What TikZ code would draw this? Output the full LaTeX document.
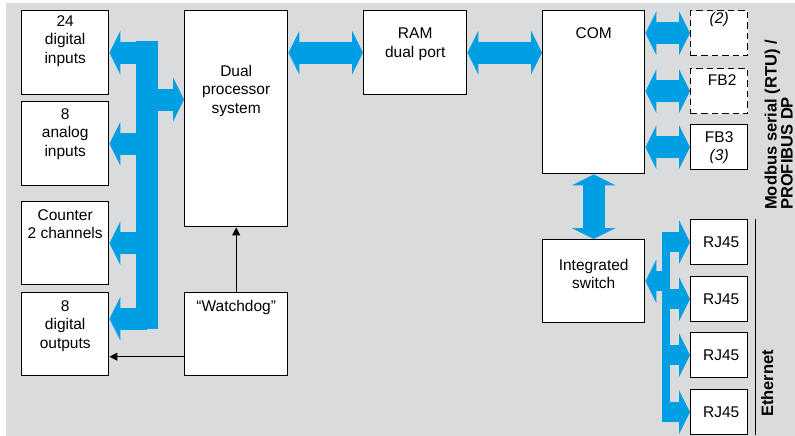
\documentclass[tikz,border=0pt]{standalone}
\usepackage{fontspec}
\setmainfont{Liberation Sans}
\usetikzlibrary{arrows.meta,positioning}

\definecolor{busblue}{RGB}{0,159,227}
\definecolor{panel}{RGB}{218,219,221}

\tikzset{
  blk/.style={draw, line width=1.4pt, fill=white, inner sep=0pt, anchor=north west},
  dblk/.style={blk, dash pattern=on 6.5pt off 4pt},
  lbl/.style={align=center, inner sep=0pt, font=\fontsize{15.5}{18.5}\selectfont},
  side/.style={rotate=90, align=left, inner sep=0pt, font=\fontsize{16.5}{14}\selectfont\bfseries},
  bus/.style={draw=busblue, line width=22pt, >={Triangle[length=11pt,width=44pt,line width=0pt]}},
  ebus/.style={bus, line width=20pt},
  ebar/.style={draw=busblue, line width=8pt},
  sig/.style={draw, line width=0.9pt, -{Triangle[length=8pt,width=8pt]}}
}

\begin{document}
\begin{tikzpicture}[x=1pt,y=-1pt]
\useasboundingbox (0,0) rectangle (795,436);
\fill[panel] (6,3) rectangle (795,436);

% I/O modules
\node[blk, minimum width=87pt, minimum height=84pt] (din) at (21,10) {};
\node[lbl, below=5pt of din.north] (din-t) {24\\digital\\inputs};
\node[blk, minimum width=87pt, minimum height=84pt] (ain) at (21,101) {};
\node[lbl, below=7pt of ain.north] (ain-t) {8\\analog\\inputs};
\node[blk, minimum width=87pt, minimum height=83pt] (cnt) at (21,201) {};
\node[lbl, below=8pt of cnt.north] (cnt-t) {Counter\\2 channels};
\node[blk, minimum width=87pt, minimum height=83pt] (dout) at (21,292) {};
\node[lbl, below=8pt of dout.north] (dout-t) {8\\digital\\outputs};

% CPU side
\node[blk, minimum width=103pt, minimum height=216pt] (dps) at (184,10) {};
\node[lbl, below=55pt of dps.north] (dps-t) {Dual\\processor\\system};
\node[blk, minimum width=103pt, minimum height=83pt] (wdog) at (184,292) {};
\node[lbl, below=8pt of wdog.north] (wdog-t) {``Watchdog''};
\node[blk, minimum width=103pt, minimum height=84pt] (ram) at (363,10) {};
\node[lbl, below=18pt of ram.north] (ram-t) {RAM\\dual port};

% communication
\node[blk, minimum width=102pt, minimum height=163pt] (com) at (542,10) {};
\node[lbl, below=17pt of com.north] (com-t) {COM};
\node[blk, minimum width=102pt, minimum height=83pt] (sw) at (542,239) {};
\node[lbl, below=20pt of sw.north] (sw-t) {Integrated\\switch};

% fieldbus slots
\node[dblk, minimum width=57pt, minimum height=45pt] (fb1) at (690,10) {};
\node[lbl, below=2pt of fb1.north] (fb1-t) {\itshape (2)};
\node[dblk, minimum width=57pt, minimum height=45pt] (fb2) at (690,68) {};
\node[lbl, below=6pt of fb2.north, xshift=3pt] (fb2-t) {FB2};
\node[blk, minimum width=57pt, minimum height=45pt] (fb3) at (690,124) {};
\node[lbl, below=7pt of fb3.north] (fb3-t) {FB3\\\itshape (3)};

% ethernet ports
\foreach \i/\y in {1/219,2/276,3/332,4/389}{
  \node[blk, minimum width=57pt, minimum height=45pt] (rj\i) at (690,\y) {};
  \node[lbl, xshift=2pt] (rj\i-t) at (rj\i.center) {RJ45};
}

% side captions
\node[side, anchor=south west] (fb-lbl) at (793,210) {Modbus serial (RTU) /\\PROFIBUS DP};
\node[side, anchor=base west] (eth-lbl) at (773,417) {Ethernet};
\draw[line width=1.8pt] ([xshift=7pt]rj1.north east) -- ([xshift=7pt]rj4.south east);

% I/O bus
\coordinate (lbtop) at (147,41);
\coordinate (lbbot) at (147,329);
\coordinate (dpsin) at (184,99.5);
\coordinate (doutin) at ([yshift=15.5pt]dout.east);
\draw[bus] (lbtop) -- (lbbot);
\draw[bus,->] (lbtop |- din.east) -- (din.east);
\draw[bus,->] (lbtop |- ain.east) -- (ain.east);
\draw[bus,->] (lbtop |- cnt.east) -- (cnt.east);
\draw[bus,->] (lbbot |- doutin) -- (doutin);
\draw[bus,->] (lbtop |- dpsin) -- (dpsin);

% data paths
\draw[bus,<->] (dps.east |- ram.west) -- (ram.west);
\draw[bus,<->] (ram.east) -- (com.west |- ram.east);
\draw[bus,<->] (com.east |- fb1.west) -- (fb1.west);
\draw[bus,<->] (com.east |- fb2.west) -- (fb2.west);
\draw[bus,<->] (com.east |- fb3.west) -- (fb3.west);
\draw[bus,<->] (com.south) -- (sw.north);

% ethernet bus
\coordinate (ebtop) at (666,231.5);
\coordinate (ebbot) at (666,421.5);
\draw[ebar] (ebtop) -- (ebbot);
\draw[ebus,->] (ebtop |- sw.east) -- (sw.east);
\foreach \i in {1,...,4}
  \draw[ebus,->] (ebtop |- rj\i.west) -- (rj\i.west);

% watchdog
\draw[sig] (wdog.north) -- (dps.south);
\draw[sig] ([yshift=-22.5pt]wdog.west) -- ([yshift=-22.5pt]dout.east);
\end{tikzpicture}
\end{document}
